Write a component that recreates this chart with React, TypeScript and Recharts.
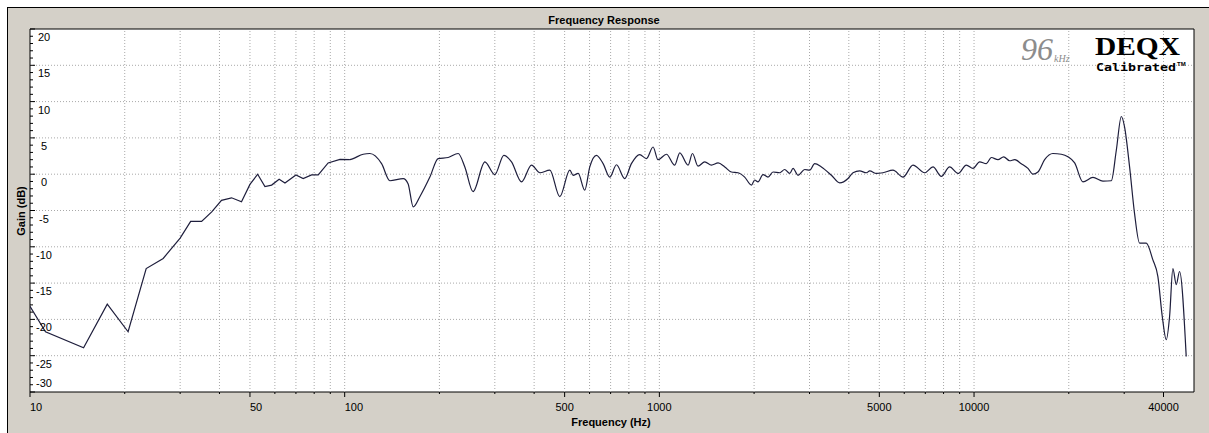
import { LineChart, Line, XAxis, YAxis, ReferenceLine, ReferenceArea } from "recharts";

// low end of the sweep, coarse resolution (straight segments)
const lowFreq = [10, 11.2, 14.8, 17.6, 20.5, 23.4, 26.5, 30, 32.4, 35.1, 37.8, 40.6, 43.7, 47, 50, 52.9, 55.8, 58.6, 61.9, 64.6, 70, 73.8, 78.5, 82.4, 88.6, 96.6, 103.9];
const lowGain = [-18.2, -21.7, -23.9, -17.9, -21.7, -13.0, -11.6, -8.8, -6.5, -6.5, -5.2, -3.6, -3.25, -3.8, -1.4, 0, -1.7, -1.5, -0.7, -1.2, -0.1, -0.6, -0.1, -0.1, 1.55, 2.05, 2.0];

// rest of the sweep
const highFreq = [103.9, 106.4, 114.5, 120.2, 131, 139.2, 153.5, 159, 165.1, 173.3, 186.5, 198.2, 213.2, 229.4, 240.9, 255.9, 278.9, 300, 320.4, 339, 364.7, 392.4, 417, 448.6, 482.6, 519.3, 532, 552, 579.4, 601, 631, 662.6, 695.8, 730.7, 776, 815, 866, 910, 955, 990, 1053, 1119, 1161, 1234, 1274, 1327, 1394, 1464, 1537, 1614, 1694, 1778, 1867, 1962, 2009, 2058, 2135, 2214, 2297, 2413, 2501, 2595, 2660, 2758, 2897, 3004, 3116, 3273, 3522, 3742, 3977, 4124, 4331, 4549, 4660, 4894, 5136, 5526, 5947, 6397, 6968, 7405, 7871, 8365, 8892, 9454, 9922, 10418, 10940, 11350, 11912, 12420, 12977, 13460, 14130, 14838, 15387, 15960, 16762, 17810, 18940, 19880, 20880, 22180, 23870, 25680, 27300, 28320, 29380, 30090, 31210, 32360, 33580, 35260, 37010, 38390, 39640, 40820, 41820, 42840, 43920, 44980, 47230];
const highGain = [2.0, 2.15, 2.75, 2.85, 1.45, -0.9, -0.6, -1.3, -4.5, -3.1, -0.4, 2.15, 2.3, 2.85, 1.0, -2.4, 1.7, -0.05, 2.6, 1.7, -1.05, 1.25, 0.2, 0.55, -3.1, 0.55, -0.15, 0.1, -2.2, 1.0, 2.6, 1.45, -0.4, 1.3, -0.6, 1.45, 2.7, 2.15, 3.75, 2.0, 2.75, 1.25, 2.95, 1.25, 2.85, 1.1, 1.7, 1.25, 1.55, 1.0, 0.3, 0.2, -0.4, -1.5, -0.8, -1.05, -0.05, -0.4, 0.3, 0.2, 0.65, 0.1, 0.8, -0.15, 0.65, 0.55, 1.45, 1.0, -0.15, -1.2, -0.6, 0.2, 0.45, 0.2, 0.45, 0.1, 0.2, 0.55, -0.4, 1.25, 0.2, 1.0, -0.3, 1.0, 0.1, 1.25, 0.8, 1.7, 1.45, 2.3, 2.0, 2.4, 1.85, 2.0, 1.45, 0.8, 0, 0.3, 2.0, 2.85, 2.75, 2.4, 1.55, -1.05, -0.45, -0.95, -0.9, 3.3, 7.95, 6.5, 1.0, -5.4, -9.5, -9.5, -11.8, -14.1, -19.6, -22.8, -19.6, -13.0, -15.2, -13.4, -25.1];

const xTicks = [10, 20, 30, 40, 50, 60, 70, 80, 90, 100, 200, 300, 400, 500, 600, 700, 800, 900, 1000, 2000, 3000, 4000, 5000, 6000, 7000, 8000, 9000, 10000, 20000, 30000, 40000];
const xLabels = [10, 50, 100, 500, 1000, 5000, 10000, 40000];
const yLabels = [20, 15, 10, 5, 0, -5, -10, -15, -20, -25, -30];
const yTicks = Array.from({ length: 51 }, (_, i) => 20 - i);

const lowData = lowFreq.map((f, i) => ({ f, g: lowGain[i] }));
const highData = highFreq.map((f, i) => ({ f, g: highGain[i] }));

const FONT = "'Liberation Sans', Arial, sans-serif";
const GRID = "#a9a9a9";
const CURVE = "#1e1e3c";

const XTick = ({ x, y, payload }: any) => {
  const v = payload.value;
  const major = xLabels.includes(v);
  return (
    <g>
      <line x1={x} x2={x} y1={y} y2={y + (major ? 5 : 2)} stroke="#000" />
      {major && (
        <text x={x} y={y + 19} textAnchor={v <= 100 ? "start" : "middle"} fontFamily={FONT} fontSize={11} fill="#000">
          {v}
        </text>
      )}
    </g>
  );
};

const YTick = ({ x, y, payload }: any) => {
  const v = payload.value;
  const major = v % 5 === 0;
  return (
    <g>
      <line x1={x} x2={x + (major ? 5 : 3)} y1={y} y2={y} stroke="#000" />
      {major && (
        <text x={x + 14} y={v === -30 ? y - 5 : y + 12} textAnchor="middle" fontFamily={FONT} fontSize={11} fill="#000">
          {v}
        </text>
      )}
    </g>
  );
};

export default function App() {
  return (
    <div style={{ position: "absolute", left: 0, top: 0, width: 1209, height: 433, background: "#fff", overflow: "hidden" }}>
      <div style={{ position: "absolute", left: 7, top: 7, width: 1202, height: 426, background: "#d4d0c8", borderLeft: "1px solid #000", borderTop: "1px solid #000", boxSizing: "border-box" }} />
      <div style={{ position: "absolute", left: 30, top: 29, width: 1164, height: 363, background: "#fff" }} />
      <div style={{ position: "absolute", left: 0, top: 0 }}>
        <LineChart width={1209} height={433} margin={{ top: 29, right: 15, bottom: 11, left: 0 }}>
          <XAxis
            dataKey="f"
            type="number"
            scale="log"
            domain={[10, 50000]}
            allowDataOverflow
            ticks={xTicks}
            interval={0}
            height={30}
            axisLine={false}
            tickLine={false}
            tickSize={0}
            tickMargin={0}
            tick={<XTick />}
          />
          <YAxis
            type="number"
            domain={[-30, 20]}
            allowDataOverflow
            ticks={yTicks}
            interval={0}
            width={30}
            axisLine={false}
            tickLine={false}
            tickSize={0}
            tickMargin={0}
            tick={<YTick />}
          />
          {yLabels.filter((v) => v !== 20 && v !== -30).map((v) => (
            <ReferenceLine key={"h" + v} y={v} stroke={GRID} strokeDasharray="1 2" />
          ))}
          {xTicks.filter((v) => v !== 10).map((v) => (
            <ReferenceLine key={"v" + v} x={v} stroke={GRID} strokeDasharray="1 2" />
          ))}
          <ReferenceArea x1={10} x2={50000} y1={-30} y2={20} fill="none" stroke="#000" strokeWidth={1} />
          <Line data={lowData} dataKey="g" type="linear" stroke={CURVE} strokeWidth={1.2} dot={false} isAnimationActive={false} />
          <Line data={highData} dataKey="g" type="monotoneX" stroke={CURVE} strokeWidth={1.2} dot={false} isAnimationActive={false} />
        </LineChart>
      </div>
      <svg width={1209} height={433} style={{ position: "absolute", left: 0, top: 0, pointerEvents: "none" }}>
        <text x={604} y={24} textAnchor="middle" fontFamily={FONT} fontSize={11} fontWeight="bold" fill="#000">
          Frequency Response
        </text>
        <text x={611} y={426} textAnchor="middle" fontFamily={FONT} fontSize={11} fontWeight="bold" fill="#000">
          Frequency (Hz)
        </text>
        <text x={25} y={211} textAnchor="middle" transform="rotate(-90 25 211)" fontFamily={FONT} fontSize={11} fontWeight="bold" fill="#000">
          Gain (dB)
        </text>
        <text x={1021} y={60} fontFamily="'Liberation Serif', serif" fontStyle="italic" fontSize={32} fill="#8c8c8c">
          96
        </text>
        <text x={1054} y={62} fontFamily="'Liberation Serif', serif" fontStyle="italic" fontSize={10} fill="#8c8c8c">
          kHz
        </text>
        <text x={1095} y={55} fontFamily="'Liberation Serif', serif" fontWeight="bold" fontSize={26} fill="#000" textLength={85} lengthAdjust="spacingAndGlyphs">
          DEQX
        </text>
        <text x={1096} y={71} fontFamily="'DejaVu Sans Mono', monospace" fontWeight="bold" fontSize={11} fill="#000" textLength={80} lengthAdjust="spacingAndGlyphs">
          Calibrated
        </text>
        <text x={1177} y={66} fontFamily={FONT} fontWeight="bold" fontSize={6} fill="#000">
          TM
        </text>
      </svg>
    </div>
  );
}
